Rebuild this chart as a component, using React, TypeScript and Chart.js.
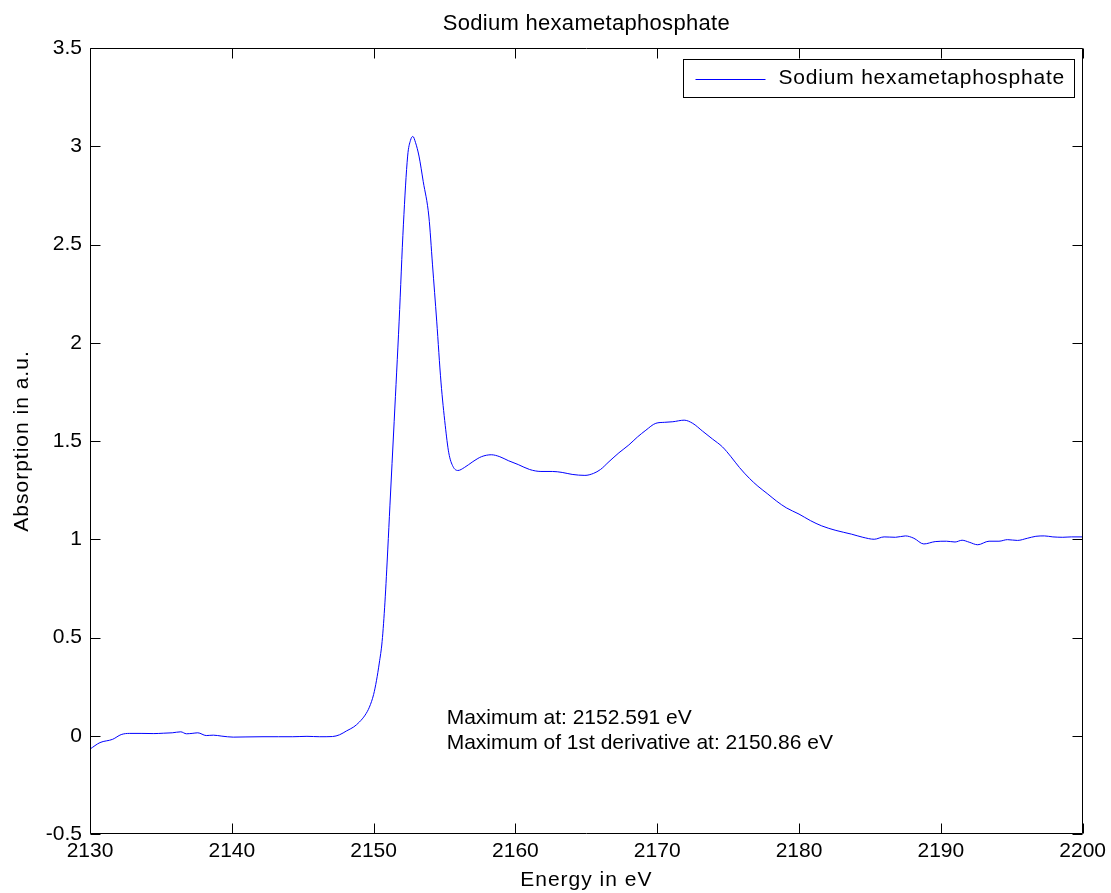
import React, { useEffect, useRef } from "react";
import { Chart, registerables } from "chart.js";

Chart.register(...registerables);

const TITLE = "Sodium hexametaphosphate";
const SERIES_LABEL = "Sodium hexametaphosphate";
const X_TITLE = "Energy in eV";
const Y_TITLE = "Absorption in a.u.";
const NOTES = ["Maximum at: 2152.591 eV", "Maximum of 1st derivative at: 2150.86 eV"];

const energy = [
  2130.0, 2130.7, 2131.6, 2132.2, 2132.8, 2133.6, 2134.5, 2135.2, 2135.8, 2136.4,
  2136.8, 2137.2, 2137.6, 2138.2, 2138.7, 2139.3, 2140.1, 2141.0, 2142.2, 2143.3,
  2144.3, 2145.3, 2146.2, 2147.1, 2147.6, 2148.1, 2148.6, 2149.0, 2149.4, 2149.7,
  2150.0, 2150.2, 2150.4, 2150.6, 2150.8, 2151.0, 2151.15, 2151.45, 2151.8, 2152.1,
  2152.4, 2152.6, 2152.77, 2152.95, 2153.2, 2153.5, 2153.9, 2154.15, 2154.45, 2154.75,
  2155.05, 2155.3, 2155.6, 2155.95, 2156.4, 2157.0, 2157.6, 2158.3, 2158.9, 2159.5,
  2160.2, 2161.0, 2161.8, 2162.6, 2163.3, 2164.0, 2164.9, 2165.5, 2166.0, 2166.6,
  2167.3, 2168.0, 2168.6, 2169.2, 2169.9, 2170.5, 2171.1, 2171.9, 2172.5, 2173.2,
  2173.9, 2174.6, 2175.2, 2175.8, 2176.5, 2177.1, 2177.8, 2178.4, 2179.1, 2180.0,
  2180.8, 2181.6, 2182.6, 2183.7, 2184.5, 2185.3, 2186.0, 2186.8, 2187.5, 2188.1,
  2188.8, 2189.6, 2190.4, 2191.0, 2191.5, 2192.0, 2192.6, 2193.4, 2194.1, 2194.7,
  2195.4, 2196.1, 2196.7, 2197.3, 2197.9, 2198.6, 2199.2, 2200.0,
];

const absorption = [
  -0.068, -0.035, -0.018, 0.006, 0.012, 0.012, 0.011, 0.013, 0.015, 0.02,
  0.01, 0.012, 0.015, 0.001, 0.003, -0.002, -0.007, -0.006, -0.005, -0.005,
  -0.005, -0.003, -0.005, -0.004, 0.005, 0.025, 0.045, 0.07, 0.105, 0.145,
  0.21, 0.28, 0.37, 0.48, 0.68, 0.95, 1.17, 1.6, 2.11, 2.6,
  2.95, 3.03, 3.05, 3.02, 2.95, 2.82, 2.64, 2.4, 2.11, 1.8,
  1.58, 1.44, 1.37, 1.35, 1.365, 1.395, 1.42, 1.43, 1.42, 1.4,
  1.38, 1.355, 1.345, 1.345, 1.34, 1.33, 1.325, 1.335, 1.355, 1.395,
  1.44, 1.48, 1.52, 1.555, 1.59, 1.595, 1.598, 1.606, 1.59, 1.55,
  1.51, 1.47, 1.42, 1.365, 1.31, 1.27, 1.23, 1.195, 1.16, 1.128,
  1.095, 1.068, 1.045, 1.026, 1.01, 1.0, 1.012, 1.01, 1.017, 1.005,
  0.976, 0.988, 0.99, 0.986, 0.995, 0.985, 0.972, 0.99, 0.99, 0.998,
  0.994, 1.005, 1.015, 1.017, 1.012, 1.01, 1.012, 1.012,
];

const xTicks = [2130, 2140, 2150, 2160, 2170, 2180, 2190, 2200];
const yTicks = [-0.5, 0, 0.5, 1, 1.5, 2, 2.5, 3, 3.5];
const noteAnchor = { x: 2155.15, y: [0.09, -0.04] };

const FONT = '"Liberation Sans", Arial, Helvetica, sans-serif';
const LINE_COLOR = "#0000ff";

const decorPlugin = {
  id: "matlabDecor",
  afterDraw(chart: any) {
    const ctx = chart.ctx as CanvasRenderingContext2D;
    const ca = chart.chartArea;
    const xs = chart.scales.x;
    const ys = chart.scales.y;
    const L = Math.round(ca.left) + 0.5;
    const R = Math.round(ca.right) - 0.5;
    const T = Math.round(ca.top) + 0.5;
    const B = Math.round(ca.bottom) - 0.5;
    ctx.save();
    ctx.strokeStyle = "#000";
    ctx.lineWidth = 1;
    ctx.beginPath();
    ctx.rect(L, T, R - L, B - T);
    const tl = 10;
    xTicks.forEach((v) => {
      const px = Math.round(xs.getPixelForValue(v)) + 0.5;
      ctx.moveTo(px, B);
      ctx.lineTo(px, B - tl);
      ctx.moveTo(px, T);
      ctx.lineTo(px, T + tl);
    });
    yTicks.forEach((v) => {
      const py = Math.round(ys.getPixelForValue(v)) + 0.5;
      ctx.moveTo(L, py);
      ctx.lineTo(L + tl, py);
      ctx.moveTo(R, py);
      ctx.lineTo(R - tl, py);
    });
    ctx.stroke();

    ctx.fillStyle = "#000";
    // Title
    (ctx as any).letterSpacing = "0.3px";
    ctx.font = `22px ${FONT}`;
    ctx.textAlign = "center";
    ctx.textBaseline = "middle";
    ctx.fillText(TITLE, (ca.left + ca.right) / 2, 24);

    // Axis titles
    (ctx as any).letterSpacing = "1px";
    ctx.font = `21px ${FONT}`;
    ctx.fillText(X_TITLE, (ca.left + ca.right) / 2, 880);
    ctx.save();
    ctx.translate(22, (ca.top + ca.bottom) / 2);
    ctx.rotate(-Math.PI / 2);
    ctx.fillText(Y_TITLE, 0, 0);
    ctx.restore();

    // Notes
    (ctx as any).letterSpacing = "0px";
    ctx.font = `21px ${FONT}`;
    ctx.textAlign = "left";
    NOTES.forEach((t, i) => {
      ctx.fillText(t, xs.getPixelForValue(noteAnchor.x), ys.getPixelForValue(noteAnchor.y[i]));
    });

    // Legend
    (ctx as any).letterSpacing = "0.8px";
    ctx.font = `21px ${FONT}`;
    const tw = ctx.measureText(SERIES_LABEL).width;
    const boxW = Math.round(12 + 70 + 13 + tw + 9);
    const boxH = 38;
    const bx = Math.round(ca.right - 9 - boxW) + 0.5;
    const by = Math.round(ca.top + 11) + 0.5;
    ctx.fillStyle = "#fff";
    ctx.fillRect(bx, by, boxW, boxH);
    ctx.strokeStyle = "#000";
    ctx.strokeRect(bx, by, boxW, boxH);
    const cy = by + boxH / 2;
    ctx.strokeStyle = LINE_COLOR;
    ctx.beginPath();
    ctx.moveTo(bx + 12, Math.round(cy) + 0.5);
    ctx.lineTo(bx + 82, Math.round(cy) + 0.5);
    ctx.stroke();
    ctx.fillStyle = "#000";
    ctx.textAlign = "left";
    ctx.fillText(SERIES_LABEL, bx + 95, cy);
    (ctx as any).letterSpacing = "0px";
    ctx.restore();
  },
};

export default function App() {
  const ref = useRef<HTMLCanvasElement | null>(null);
  useEffect(() => {
    document.body.style.margin = "0";
    if (!ref.current) return;
    const data = energy.map((e, i) => ({ x: e, y: absorption[i] }));
    const chart = new Chart(ref.current, {
      type: "line",
      data: {
        datasets: [
          {
            label: SERIES_LABEL,
            data,
            borderColor: LINE_COLOR,
            borderWidth: 1,
            pointRadius: 0,
            fill: false,
            cubicInterpolationMode: "monotone",
          },
        ],
      },
      options: {
        animation: false,
        responsive: false,
        maintainAspectRatio: false,
        devicePixelRatio: 1,
        layout: { padding: { top: 48, right: 26, bottom: 0, left: 0 } },
        plugins: {
          legend: { display: false },
          title: { display: false },
          tooltip: { enabled: false },
        },
        scales: {
          x: {
            type: "linear",
            min: 2130,
            max: 2200,
            grid: { display: false, drawTicks: false },
            border: { display: false },
            afterBuildTicks: (s: any) => {
              s.ticks = xTicks.map((v) => ({ value: v }));
            },
            afterFit: (s: any) => {
              s.height = 59;
            },
            ticks: {
              padding: 5,
              color: "#000",
              font: { family: FONT, size: 21 },
              maxRotation: 0,
              autoSkip: false,
              callback: (v: any) => String(v),
            },
          },
          y: {
            type: "linear",
            min: -0.5,
            max: 3.5,
            grid: { display: false, drawTicks: false },
            border: { display: false },
            afterBuildTicks: (s: any) => {
              s.ticks = yTicks.map((v) => ({ value: v }));
            },
            afterFit: (s: any) => {
              s.width = 90;
            },
            ticks: {
              padding: 8,
              color: "#000",
              font: { family: FONT, size: 21 },
              autoSkip: false,
              callback: (v: any) => String(v),
            },
          },
        },
      },
      plugins: [decorPlugin],
    } as any);
    return () => chart.destroy();
  }, []);
  return (
    <div style={{ width: 1111, height: 893, position: "relative", background: "#fff" }}>
      <canvas ref={ref} width={1111} height={893} style={{ display: "block", width: 1111, height: 893 }} />
    </div>
  );
}
